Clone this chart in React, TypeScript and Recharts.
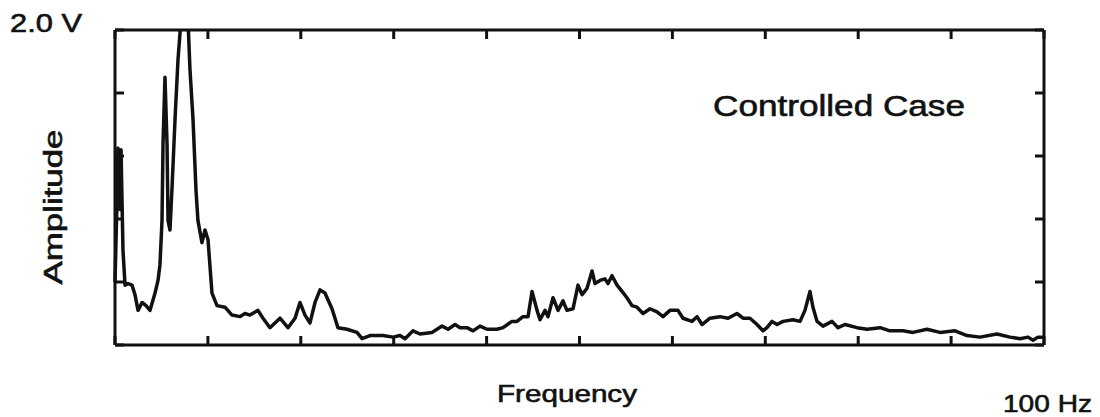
import React from 'react';
import { LineChart, Line, XAxis, YAxis } from 'recharts';

// frequency (Hz)
const freq = [
  0, 0.22, 0.32, 0.54, 0.65, 0.86, 1.08, 1.4, 1.83, 2.15, 2.48, 2.91, 3.34, 3.77, 4.31, 4.63, 4.84,
  5.06, 5.17, 5.38, 5.6, 5.71, 5.92, 6.14, 6.46, 6.78, 7.1, 7.43, 7.86, 8.07, 8.4, 8.72, 8.93,
  9.36, 9.69, 10.01, 10.44, 10.98, 11.84, 12.59, 13.46, 13.99, 14.53, 15.39, 15.93, 16.68, 17.76,
  18.62, 19.38, 19.91, 20.45, 20.99, 21.53, 22.07, 22.6, 23.36, 24.0, 24.97, 26.05, 26.59, 27.45,
  28.85, 29.92, 30.68, 31.22, 32.08, 32.83, 34.12, 35.2, 35.85, 36.6, 37.14, 37.89, 38.54, 39.29,
  40.04, 41.12, 41.77, 42.73, 43.27, 43.92, 44.46, 44.89, 45.43, 45.75, 46.29, 46.61, 47.15, 47.69,
  48.22, 48.65, 49.3, 49.84, 50.27, 50.81, 51.35, 51.67, 52.21, 52.74, 53.07, 53.5, 54.04, 54.58,
  55.11, 55.65, 56.19, 56.84, 57.59, 58.34, 58.99, 59.74, 60.6, 61.14, 62.11, 62.65, 63.19, 64.05,
  65.12, 65.99, 66.95, 67.6, 68.35, 69.11, 69.75, 70.18, 70.72, 71.26, 71.91, 72.98, 73.74, 74.27,
  74.81, 75.13, 75.57, 76.21, 77.18, 77.83, 78.58, 79.87, 80.95, 82.35, 83.42, 84.82, 85.9, 87.41,
  88.8, 90.42, 91.71, 93.11, 94.94, 96.34, 97.42, 98.28, 98.82, 99.35, 99.89,
];

// amplitude (V)
const amplitude = [
  0.4, 0.92, 1.25, 0.86, 1.24, 0.6, 0.38, 0.39, 0.38, 0.32, 0.22, 0.27, 0.25, 0.22, 0.33, 0.41, 0.51,
  0.79, 1.28, 1.7, 1.28, 0.79, 0.73, 1.0, 1.43, 1.81, 2.06, 2.2, 2.06, 1.75, 1.43, 0.98, 0.79,
  0.65, 0.73, 0.67, 0.33, 0.25, 0.24, 0.19, 0.18, 0.2, 0.19, 0.22, 0.17, 0.11, 0.17,
  0.11, 0.17, 0.27, 0.19, 0.14, 0.27, 0.35, 0.33, 0.23, 0.11, 0.1, 0.08, 0.04, 0.06,
  0.06, 0.05, 0.06, 0.04, 0.09, 0.07, 0.08, 0.12, 0.1, 0.13, 0.11, 0.11, 0.09, 0.12,
  0.1, 0.1, 0.11, 0.15, 0.15, 0.18, 0.18, 0.34, 0.22, 0.16, 0.22, 0.18, 0.3, 0.22,
  0.28, 0.22, 0.23, 0.38, 0.32, 0.36, 0.47, 0.39, 0.41, 0.42, 0.39, 0.44, 0.38, 0.34,
  0.3, 0.25, 0.24, 0.2, 0.23, 0.21, 0.18, 0.22, 0.22, 0.17, 0.15, 0.18, 0.13, 0.17,
  0.18, 0.17, 0.2, 0.17, 0.17, 0.13, 0.09, 0.11, 0.15, 0.13, 0.15, 0.16, 0.15, 0.22,
  0.34, 0.24, 0.15, 0.12, 0.15, 0.11, 0.13, 0.11, 0.1, 0.11, 0.09, 0.09, 0.08, 0.1,
  0.08, 0.09, 0.06, 0.05, 0.07, 0.05, 0.04, 0.05, 0.03, 0.05, 0.05,
];

const freqTicks = [0, 10, 20, 30, 40, 50, 60, 70, 80, 90, 100];
const ampTicks = [0, 0.4, 0.8, 1.2, 1.6, 2.0];

const data = freq.map((f, i) => ({ f, v: amplitude[i] }));

const INK = '#111';
const FONT = '"Liberation Sans", Arial, Helvetica, sans-serif';
const TICK = 9;
const AXIS = { stroke: INK, strokeWidth: 3 };

// ticks point into the plot, so they are drawn by hand from the axis position
const BottomTick = ({ x, y }: any) => <line x1={x} x2={x} y1={y} y2={y - TICK} stroke={INK} strokeWidth={3} />;
const TopTick = ({ x, y }: any) => <line x1={x} x2={x} y1={y} y2={y + TICK} stroke={INK} strokeWidth={3} />;
const LeftTick = ({ x, y }: any) => <line x1={x} x2={x + TICK} y1={y} y2={y} stroke={INK} strokeWidth={3} />;
const RightTick = ({ x, y }: any) => <line x1={x} x2={x - TICK} y1={y} y2={y} stroke={INK} strokeWidth={3} />;

export default function App() {
  return (
    <div style={{ position: 'absolute', left: 0, top: 0, width: 1100, height: 417, background: '#fff' }}>
      <LineChart width={1100} height={417} data={data} margin={{ top: 0, right: 0, bottom: 0, left: 0 }}>
        <XAxis
          xAxisId="b"
          dataKey="f"
          type="number"
          domain={[0, 100]}
          ticks={freqTicks}
          orientation="bottom"
          height={72}
          tickSize={0}
          tickMargin={0}
          tickLine={false}
          tick={<BottomTick />}
          axisLine={AXIS}
        />
        <XAxis
          xAxisId="t"
          dataKey="f"
          type="number"
          domain={[0, 100]}
          ticks={freqTicks}
          orientation="top"
          height={30}
          tickSize={0}
          tickMargin={0}
          tickLine={false}
          tick={<TopTick />}
          axisLine={AXIS}
        />
        <YAxis
          yAxisId="l"
          type="number"
          domain={[0, 2]}
          allowDataOverflow
          ticks={ampTicks}
          orientation="left"
          width={115}
          tickSize={0}
          tickMargin={0}
          tickLine={false}
          tick={<LeftTick />}
          axisLine={AXIS}
        />
        <YAxis
          yAxisId="r"
          type="number"
          domain={[0, 2]}
          allowDataOverflow
          ticks={ampTicks}
          orientation="right"
          width={56}
          tickSize={0}
          tickMargin={0}
          tickLine={false}
          tick={<RightTick />}
          axisLine={AXIS}
        />
        <Line
          xAxisId="t"
          yAxisId="r"
          dataKey="v"
          stroke="transparent"
          dot={false}
          activeDot={false}
          isAnimationActive={false}
        />
        <Line
          xAxisId="b"
          yAxisId="l"
          type="linear"
          dataKey="v"
          stroke={INK}
          strokeWidth={3.5}
          strokeLinejoin="round"
          dot={false}
          activeDot={false}
          isAnimationActive={false}
        />
      </LineChart>
      <svg width={1100} height={417} style={{ position: 'absolute', left: 0, top: 0, pointerEvents: 'none' }}>
        <g fill={INK} stroke={INK} strokeWidth={0.6} fontFamily={FONT}>
          <text x={10} y={32} fontSize={26} textLength={72} lengthAdjust="spacingAndGlyphs">2.0 V</text>
          <text x={713} y={116} fontSize={29} textLength={252} lengthAdjust="spacingAndGlyphs">Controlled Case</text>
          <text x={497} y={402} fontSize={24} textLength={140} lengthAdjust="spacingAndGlyphs">Frequency</text>
          <text x={1003} y={412} fontSize={24} textLength={89} lengthAdjust="spacingAndGlyphs">100 Hz</text>
          <text
            x={0}
            y={0}
            fontSize={25}
            textLength={155}
            lengthAdjust="spacingAndGlyphs"
            textAnchor="middle"
            transform="translate(62 207) rotate(-90)"
          >
            Amplitude
          </text>
        </g>
      </svg>
    </div>
  );
}
